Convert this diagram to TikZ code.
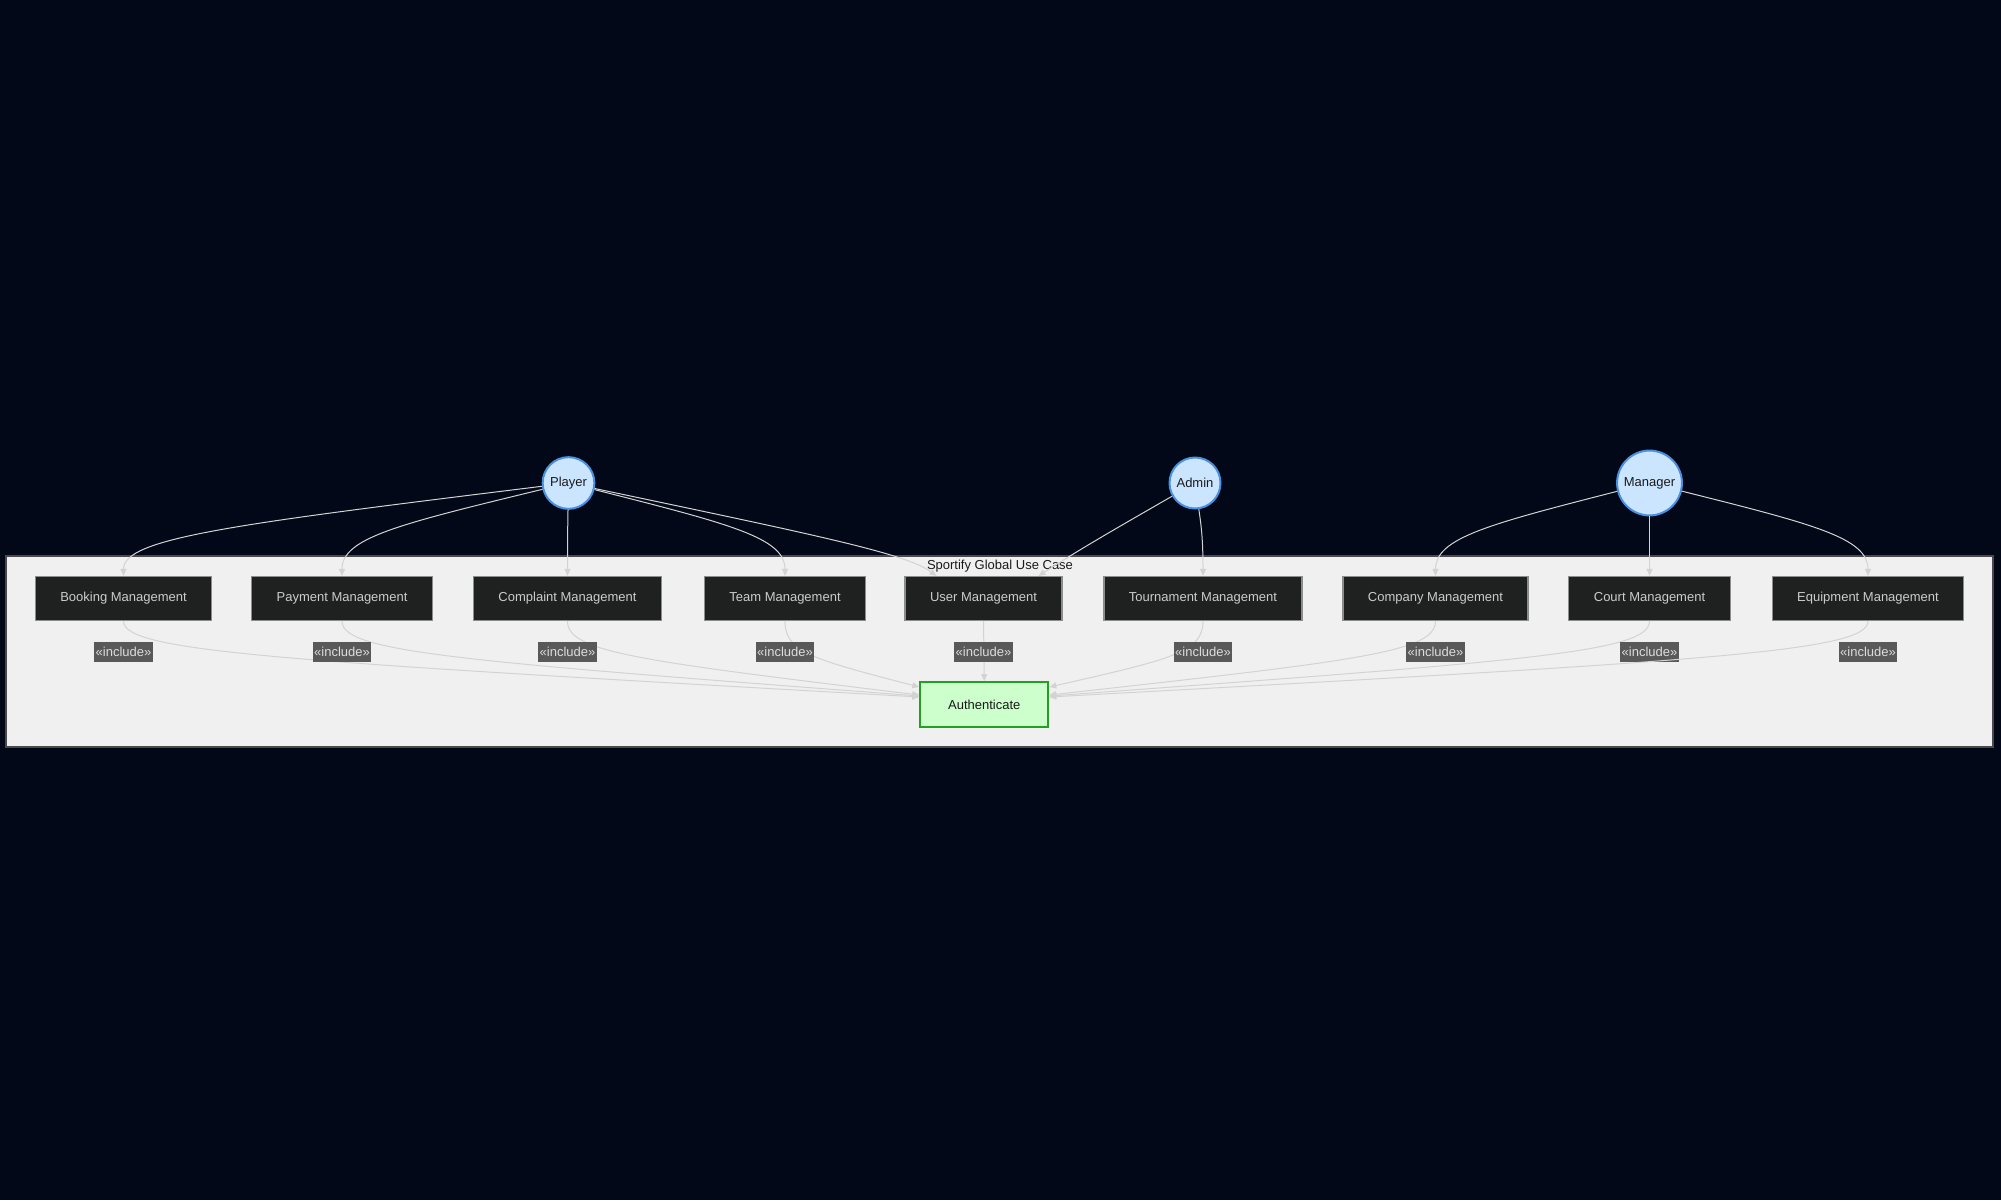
\documentclass[tikz,border=0pt]{standalone}
\usepackage{fontspec}
\setmainfont{Liberation Sans}
\usepackage{tikz}
\usetikzlibrary{calc,arrows.meta}
\definecolor{bgnavy}{HTML}{020817}
\definecolor{framefill}{HTML}{F0F0F0}
\definecolor{framedraw}{HTML}{4A4A4A}
\definecolor{actorfill}{HTML}{CCE5FF}
\definecolor{actorblue}{HTML}{4A90E2}
\definecolor{ucfill}{HTML}{1F2020}
\definecolor{ucdraw}{HTML}{8C8C8C}
\definecolor{uctext}{HTML}{CCCCCC}
\definecolor{incfill}{HTML}{595959}
\definecolor{inctext}{HTML}{DDDDDD}
\definecolor{authfill}{HTML}{CCFFCC}
\definecolor{authgreen}{HTML}{22A022}
\definecolor{linkgray}{HTML}{D3D3D3}
\definecolor{darktext}{HTML}{1A1A1A}
\newcommand{\diafont}{\fontsize{13}{15.6}\selectfont}
\tikzset{
  actor/.style={circle,draw=actorblue,line width=2pt,fill=actorfill,
    minimum size=51pt,inner sep=5pt,text=darktext,font=\diafont},
  usecase/.style={draw=ucdraw,line width=1.2pt,fill=ucfill,text=uctext,
    minimum height=44pt,inner xsep=25pt,font=\diafont},
  authbox/.style={draw=authgreen,line width=2pt,fill=authfill,text=darktext,
    minimum width=128pt,minimum height=45pt,font=\diafont},
  inclabel/.style={fill=incfill,text=inctext,inner xsep=1.5pt,inner ysep=0pt,
    minimum height=20pt,font=\diafont},
  link/.style={draw=linkgray,line width=1pt,-{Triangle[length=7pt,width=6pt]}},
}
\begin{document}
\begin{tikzpicture}[x=1pt,y=-1pt]
  \fill[bgnavy] (0,0) rectangle (2001,1200);
  \useasboundingbox (0,0) rectangle (2001,1200);
  \draw[draw=framedraw,line width=2pt,fill=framefill] (6,556) rectangle (1993,747);
  \node[text=darktext,font=\diafont] (title) at (1000,566) {Sportify Global Use Case};
  \node[actor] (player) at (568.5,483) {Player};
  \node[actor] (admin) at (1195,483) {Admin};
  \node[actor] (manager) at (1649.5,483) {Manager};
  \foreach \n/\x/\t in {book/123.5/Booking Management, pay/342/Payment Management,
      comp/567.5/Complaint Management, team/785/Team Management,
      user/983.5/User Management, tourn/1203/Tournament Management,
      company/1435.5/Company Management, court/1649.5/Court Management,
      equip/1868/Equipment Management}
    \node[usecase] (\n) at (\x,598.5) {\t};
  \node[authbox] (auth) at (984.3,704.7) {Authenticate};
  \foreach \a/\u/\ex/\kx/\ky in {player/book/0/0/-38, player/pay/0/0/-38,
      player/comp/0/0/-38, player/team/0/0/-38, player/user/-47/-30/-22,
      admin/user/55/42/-27, admin/tourn/0/0/-38, manager/company/0/0/-38,
      manager/court/0/0/-38, manager/equip/0/0/-38}{
    \coordinate (e) at ($(\u.north)+(\ex,0)$);
    \coordinate (k) at ($(e)+(\kx,\ky)$);
    \draw[link] (\a) .. controls ($(\a)!.75!(k)$) and (k) .. (e);
  }
  \foreach \u/\ey/\side in {book/697/west, pay/696/west, comp/695/west,
      team/687/west, tourn/687/east, company/695/east, court/696/east,
      equip/697/east}{
    \coordinate (m) at ($(\u.south)+(0,31)$);
    \coordinate (e) at (auth.\side |- 0,\ey);
    \draw[link] (\u.south) .. controls (m) and ($(m)!.2!(e)$) .. (e);
    \node[inclabel] (inc-\u) at (m) {«include»};
  }
  \draw[link] (user.south) -- (auth.north);
  \node[inclabel] (inc-user) at ($(user.south)+(0,31)$) {«include»};
\end{tikzpicture}
\end{document}
